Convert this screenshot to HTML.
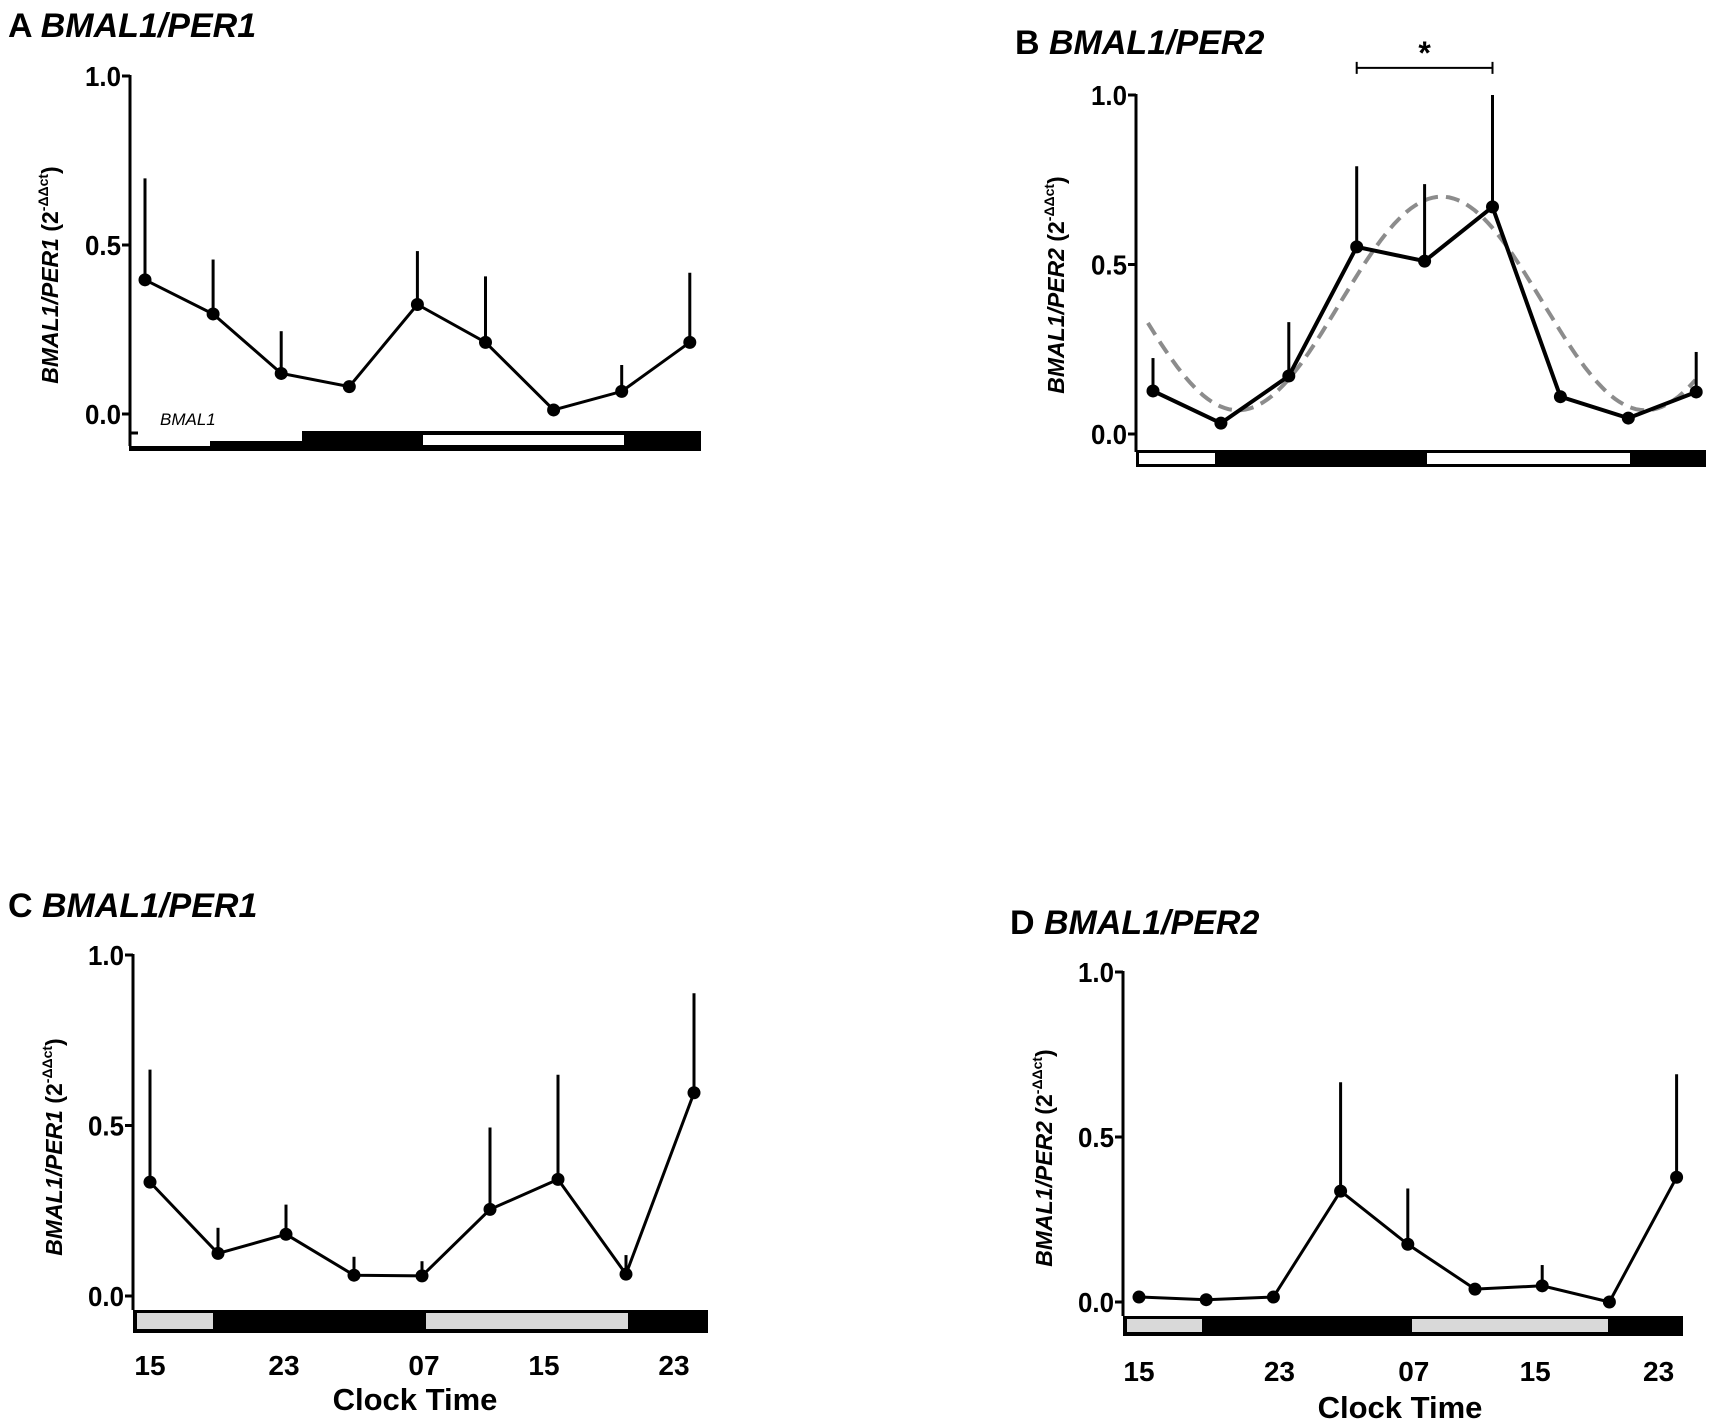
<!DOCTYPE html>
<html><head><meta charset="utf-8"><style>
html,body{margin:0;padding:0;background:#fff;}
svg{display:block;font-family:"Liberation Sans",sans-serif;}
</style></head><body>
<svg id="fig" width="1713" height="1424" viewBox="0 0 1713 1424" xmlns="http://www.w3.org/2000/svg"></svg>
<script>
// ---- data (hours from 15:00, step 4h) ----
const hours = [0,4,8,12,16,20,24,28,32];
const tickHours = [0,8,16,24,32];
const tickLabels = ["15","23","07","15","23"];
const yTicks = [0,0.5,1];
const yTickLabels = ["0.0","0.5","1.0"];

const meanA = [0.397,0.296,0.12,0.081,0.324,0.212,0.012,0.067,0.212];
const errA  = [0.697,0.457,0.245,null,0.482,0.407,null,0.145,0.418];
const meanB = [0.127,0.032,0.171,0.552,0.51,0.67,0.11,0.047,0.124];
const errB  = [0.224,null,0.33,0.79,0.737,1.0,null,null,0.242];
const meanC = [0.334,0.125,0.181,0.061,0.059,0.254,0.342,0.064,0.596];
const errC  = [0.664,0.2,0.268,0.115,0.102,0.494,0.649,0.12,0.888];
const meanD = [0.015,0.007,0.015,0.336,0.175,0.039,0.049,0.0,0.378];
const errD  = [null,null,null,0.666,0.344,null,0.112,null,0.69];
// cosinor fit for B: mesor, amplitude, acrophase (hours from 15:00), period
const fitB = [0.385,0.315,17,24];

const svg = document.getElementById('fig');
const NS = 'http://www.w3.org/2000/svg';
function mk(tag, attrs, parent){
  const e = document.createElementNS(NS, tag);
  for (const k in attrs) e.setAttribute(k, attrs[k]);
  (parent||svg).appendChild(e);
  return e;
}

function panel(cfg){
  const g = mk('g', {});
  
  
  const X = h => cfg.x0 + h * cfg.hstep;
  const Y = v => cfg.y0 - v * (cfg.y0 - cfg.y1);
  const t = mk('text', {x:cfg.tx, y:cfg.ty, 'font-size':34, 'font-weight':'bold'}, g);
  
  
  const t1 = document.createElementNS(NS,'tspan'); t1.textContent = cfg.letter + ' '; t.appendChild(t1);
  const t2 = document.createElementNS(NS,'tspan'); t2.setAttribute('font-style','italic'); t2.textContent = cfg.title; t.appendChild(t2);
  const ax = mk('line', {x1:cfg.ax, x2:cfg.ax, y1:Y(1)-1, y2:cfg.axBottom, stroke:'#000','stroke-width':3}, g);
  
  
  yTicks.forEach((v,i)=>{
    const tk = mk('line', {x1:cfg.ax-8, x2:cfg.ax, y1:Y(v), y2:Y(v), stroke:'#000','stroke-width':3}, g);
    
    
    const lb = mk('text', {x:cfg.ax-9, y:Y(v)+10, 'font-size':28, 'font-weight':'bold','text-anchor':'end','textLength':36,'lengthAdjust':'spacingAndGlyphs'}, g);
    
    
    lb.textContent = yTickLabels[i];
  });
  const yt = mk('text', {transform:`translate(${cfg.ytx},${cfg.yty}) rotate(-90)`, 'font-size':23, 'font-weight':'bold','text-anchor':'middle'}, g);
  
  
  const y1 = document.createElementNS(NS,'tspan'); y1.setAttribute('font-style','italic'); y1.textContent = cfg.title + ' '; yt.appendChild(y1);
  const y2 = document.createElementNS(NS,'tspan'); y2.textContent = '(2'; yt.appendChild(y2);
  const y3 = document.createElementNS(NS,'tspan'); y3.setAttribute('font-size','14'); y3.setAttribute('dy','-10'); y3.textContent = '-\u0394\u0394ct'; yt.appendChild(y3);
  const y4 = document.createElementNS(NS,'tspan'); y4.setAttribute('dy','10'); y4.textContent = ')'; yt.appendChild(y4);
  cfg.bars.forEach(b=>{
    const r = mk('rect', {x:b[0], y:b[1], width:b[2]-b[0], height:b[3]-b[1], fill:b[4]}, g);
    
    
  });
  if (cfg.fit){
    let d='';
    for (let h=cfg.fit[4]; h<=cfg.fit[5]+0.001; h+=0.25){
      const v = cfg.fit[0] + cfg.fit[1]*Math.cos(2*Math.PI*(h-cfg.fit[2])/cfg.fit[3]);
      d += (d?'L':'M') + X(h).toFixed(1) + ',' + Y(v).toFixed(1);
    }
    const p = mk('path', {d, fill:'none', stroke:'#8c8c8c','stroke-width':4,'stroke-dasharray':'14,8'}, g);
    
    
  }
  cfg.err.forEach((e,i)=>{
    if (e===null) return;
    const l = mk('line', {x1:X(hours[i]), x2:X(hours[i]), y1:Y(cfg.mean[i]), y2:Y(e), stroke:'#000','stroke-width':3}, g);
    
    
  });
  const pts = cfg.mean.map((v,i)=>X(hours[i]).toFixed(1)+','+Y(v).toFixed(1)).join(' ');
  const pl = mk('polyline', {points:pts, fill:'none', stroke:'#000','stroke-width':cfg.lw}, g);
  
  
  cfg.mean.forEach((v,i)=>{
    const c = mk('circle', {cx:X(hours[i]), cy:Y(v), r:6.5, fill:'#000'}, g);
    
    
  });
  if (cfg.xlabels){
    tickHours.forEach((h,i)=>{
      const lb = mk('text', {x:X(h)+cfg.lblShift[i], y:cfg.lblY, 'font-size':28,'font-weight':'bold','text-anchor':'middle'}, g);
      
      
      lb.textContent = tickLabels[i];
    });
    const xt = mk('text', {x:cfg.xtx, y:cfg.xty, 'font-size':31,'font-weight':'bold','text-anchor':'middle'}, g);
    
    
    xt.textContent = 'Clock Time';
  }
  return {g, X, Y};
}

const pA = panel({name:'panel-a', letter:'A', title:'BMAL1/PER1', tx:8, ty:37,
  x0:145, hstep:68.1/4, y0:414, y1:76, ax:130, axBottom:446,
  ytx:58, yty:275, mean:meanA, err:errA, lw:3,
  bars:[[129,446,210,451,'#000'],[210,441,302,451,'#000'],[302,431,701,451,'#000'],[423,435,624,445,'#fff']]});
const tkA = mk('line',{x1:130,x2:138,y1:433,y2:433,stroke:'#000','stroke-width':3}, pA.g);


const bl = mk('text',{x:160,y:425,'font-size':17,'font-style':'italic'}, pA.g);


bl.textContent='BMAL1';

const pB = panel({name:'panel-b', letter:'B', title:'BMAL1/PER2', tx:1015, ty:54,
  x0:1153, hstep:67.9/4, y0:434, y1:95, ax:1136, axBottom:452,
  ytx:1064, yty:285, mean:meanB, err:errB, lw:4, fit:[fitB[0],fitB[1],fitB[2],fitB[3],-0.3,32],
  bars:[[1136,450,1706,467,'#000'],[1139,453,1215,464,'#fff'],[1427,453,1630,464,'#fff']]});
const brY = pB.Y(1.08);
[[pB.X(hours[3]),pB.X(hours[3]),brY-6,brY+6],[pB.X(hours[5]),pB.X(hours[5]),brY-6,brY+6],[pB.X(hours[3]),pB.X(hours[5]),brY,brY]].forEach(s=>{
  const l = mk('line',{x1:s[0],x2:s[1],y1:s[2],y2:s[3],stroke:'#000','stroke-width':2}, pB.g);
  
  
});
const st = mk('text',{x:(pB.X(hours[3])+pB.X(hours[5]))/2,y:brY-4,'font-size':32,'font-weight':'bold','text-anchor':'middle'}, pB.g);


st.textContent='*';

panel({name:'panel-c', letter:'C', title:'BMAL1/PER1', tx:8, ty:917,
  x0:150, hstep:68/4, y0:1296, y1:955, ax:133, axBottom:1310,
  ytx:62, yty:1147, mean:meanC, err:errC, lw:3,
  bars:[[133,1310,708,1333,'#000'],[137,1313,213,1329,'#d9d9d9'],[426,1313,628,1329,'#d9d9d9']],
  xlabels:true, lblY:1375, lblShift:[0,-2,2,-14,-20], xtx:415, xty:1410});

panel({name:'panel-d', letter:'D', title:'BMAL1/PER2', tx:1010, ty:934,
  x0:1139, hstep:67.2/4, y0:1302, y1:972, ax:1123, axBottom:1316,
  ytx:1052, yty:1158, mean:meanD, err:errD, lw:3,
  bars:[[1123,1316,1683,1336,'#000'],[1127,1319,1202,1332,'#d9d9d9'],[1412,1319,1608,1332,'#d9d9d9']],
  xlabels:true, lblY:1381, lblShift:[0,6,6,-7,-18], xtx:1400, xty:1418});
</script>
</body></html>
